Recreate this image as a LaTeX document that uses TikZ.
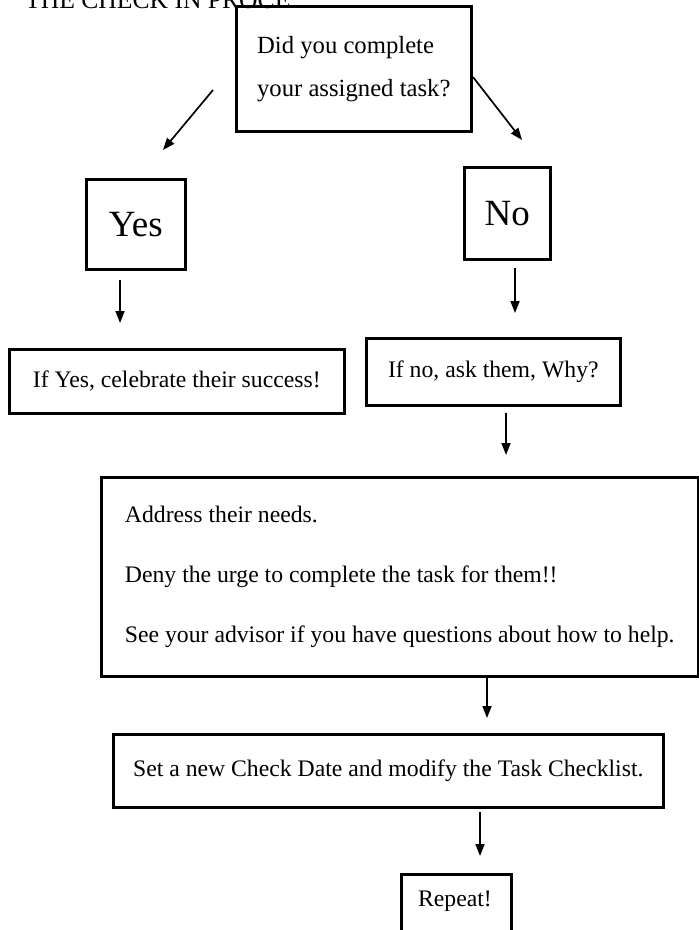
\documentclass[tikz,border=0pt]{standalone}
\usepackage{fontspec}
\setmainfont{Liberation Serif}
\usetikzlibrary{arrows.meta}
\begin{document}
\begin{tikzpicture}[x=1pt,y=-1pt,
  box/.style={draw, line width=2.6pt, inner sep=0pt, anchor=north west},
  txt/.style={font=\fontsize{23.7}{28.4}\selectfont, align=left},
  big/.style={font=\fontsize{37}{42}\selectfont},
  arr/.style={line width=1.7pt, -{Triangle[length=12pt,width=9pt]}}]
\useasboundingbox (0,0) rectangle (699,930);
\fill[white] (0,0) rectangle (699,930);

\node[anchor=base west, inner sep=0pt, font=\fontsize{25.6}{30}\selectfont] (title) at (25,8) {THE CHECK IN PROCE};

\node[box, txt, font=\fontsize{24.7}{29}\selectfont, minimum width=235pt, minimum height=125pt] (q) at (235,5) {Did you complete\\[14pt]your assigned task?};
\node[box, big, minimum width=99pt, minimum height=90pt] (yes) at (85,178) {Yes};
\node[box, big, minimum width=86pt, minimum height=92pt] (no) at (463,166) {No};
\node[box, txt, minimum width=335pt, minimum height=64pt] (cel) at (8,348) {If Yes, celebrate their success!};
\node[box, txt, minimum width=254pt, minimum height=67pt] (why) at (365,337) {If no, ask them, Why?};
\node[box, txt, minimum width=597pt, minimum height=199pt] (needs) at (100,476) {Address their needs.\\[32pt]Deny the urge to complete the task for them!!\\[32pt]See your advisor if you have questions about how to help.};
\node[box, txt, minimum width=550pt, minimum height=73pt] (set) at (112,733) {Set a new Check Date and modify the Task Checklist.};
\node[box, minimum width=110pt, minimum height=72pt] (rep) at (400,873) {};
\node[txt, anchor=base] (reptxt) at (455,906) {Repeat!};

\coordinate (a1s) at (213,90);  \coordinate (a1e) at (163,150);
\coordinate (a2s) at (473,77);  \coordinate (a2e) at (522,140);
\coordinate (a3s) at (120,280); \coordinate (a3e) at (120,323);
\coordinate (a4s) at (515,268); \coordinate (a4e) at (515,313);
\coordinate (a5s) at (506,413); \coordinate (a5e) at (506,455);
\coordinate (a6s) at (487,677); \coordinate (a6e) at (487,718);
\coordinate (a7s) at (480,812); \coordinate (a7e) at (480,856);

\draw[arr] (a1s) -- (a1e);
\draw[arr] (a2s) -- (a2e);
\draw[arr] (a3s) -- (a3e);
\draw[arr] (a4s) -- (a4e);
\draw[arr] (a5s) -- (a5e);
\draw[arr] (a6s) -- (a6e);
\draw[arr] (a7s) -- (a7e);
\end{tikzpicture}
\end{document}
